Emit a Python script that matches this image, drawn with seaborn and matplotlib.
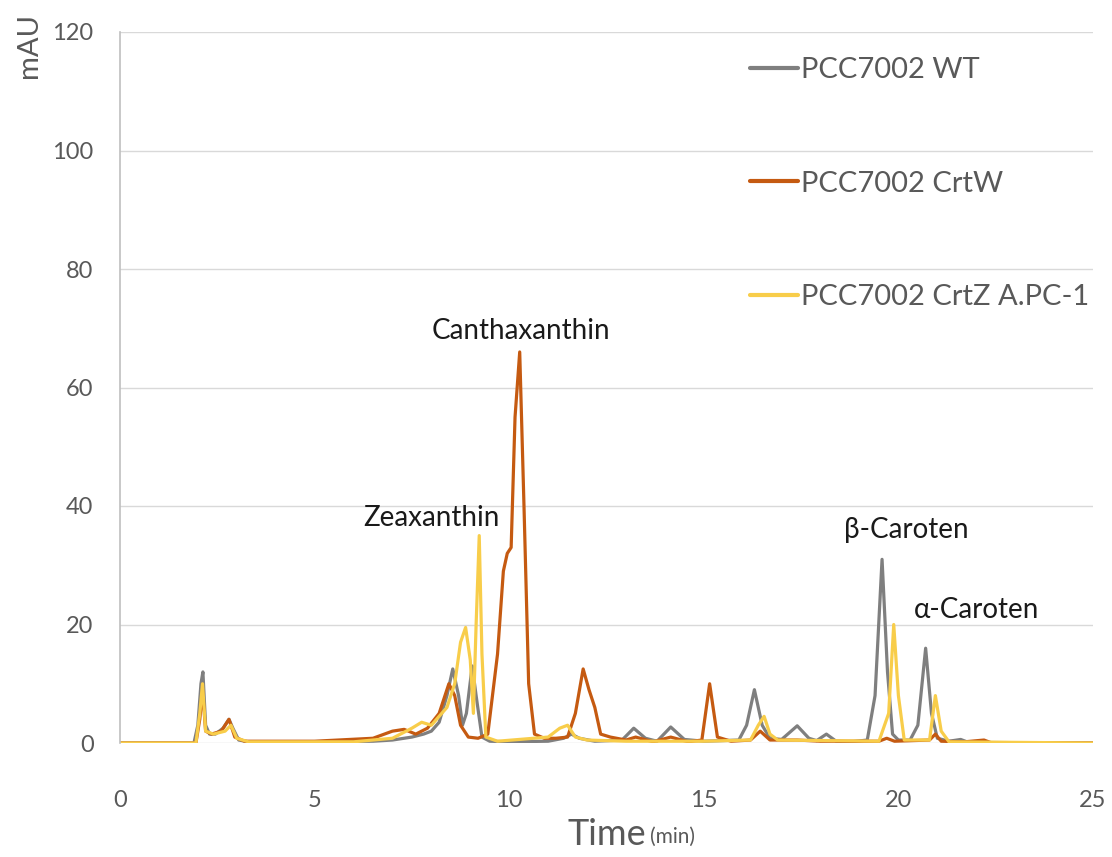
import numpy as np
import pandas as pd
import matplotlib
matplotlib.use("Agg")
import matplotlib.pyplot as plt
import seaborn as sns

# ---------------- data ----------------
wt_time = [0, 1.9, 2.0, 2.08, 2.13, 2.2, 2.3, 2.45, 2.65, 2.8, 2.9, 3.05, 3.3, 5.0, 6.5, 7.0,
           7.5, 7.8, 8.0, 8.2, 8.4, 8.55, 8.7, 8.8, 8.9, 9.05, 9.15, 9.3, 9.5, 10.0, 11.0,
           11.4, 11.6, 11.8, 12.2, 12.9, 13.2, 13.5, 13.8, 14.15, 14.5, 15.0, 15.9, 16.1,
           16.3, 16.5, 16.7, 17.0, 17.4, 17.7, 17.9, 18.15, 18.4, 18.8, 19.2, 19.4, 19.58,
           19.72, 19.85, 20.0, 20.3, 20.5, 20.7, 20.85, 21.0, 21.3, 21.6, 21.8, 25.0]
wt_mau = [0, 0, 3, 10, 12, 3, 1.5, 1.5, 2.5, 4, 2.5, 0.5, 0.2, 0.2, 0.3, 0.5,
          1, 1.5, 2, 3.5, 8, 12.5, 8, 3, 5, 13, 8, 1, 0.3, 0.2, 0.3,
          0.8, 1.5, 0.8, 0.3, 0.5, 2.5, 0.8, 0.3, 2.7, 0.6, 0.3, 0.5, 3,
          9, 3, 0.8, 0.6, 2.9, 0.8, 0.4, 1.5, 0.3, 0.2, 0.5, 8, 31,
          12, 1.5, 0.5, 0.5, 3, 16, 5, 0.8, 0.3, 0.6, 0.1, 0]

crtw_time = [0, 1.95, 2.05, 2.12, 2.2, 2.35, 2.6, 2.8, 2.95, 3.2, 5.0, 6.5, 7.0, 7.3, 7.6,
             7.9, 8.2, 8.45, 8.6, 8.75, 8.95, 9.2, 9.45, 9.7, 9.85, 9.95, 10.05, 10.15,
             10.27, 10.38, 10.5, 10.65, 10.9, 11.2, 11.5, 11.7, 11.9, 12.05, 12.2, 12.35,
             12.6, 13.0, 13.25, 13.7, 14.15, 14.6, 14.95, 15.15, 15.35, 15.7, 16.2, 16.45,
             16.7, 17.4, 18.0, 19.5, 19.7, 19.9, 20.8, 20.95, 21.1, 21.7, 22.2, 22.4, 25.0]
crtw_mau = [0, 0, 4, 9, 2, 1.5, 2, 4, 1, 0.3, 0.3, 0.8, 2, 2.3, 1.5,
            2.5, 5, 10, 8, 3, 1, 0.8, 1.5, 15, 29, 32, 33, 55,
            66, 40, 10, 1.5, 0.8, 0.8, 1, 5, 12.5, 9, 6, 1.5,
            1, 0.5, 1, 0.2, 1, 0.2, 0.5, 10, 1, 0.3, 0.5, 2,
            0.5, 0.5, 0.3, 0.3, 0.8, 0.3, 0.5, 1.5, 0.3, 0.2, 0.5, 0, 0]

crtz_time = [0, 1.95, 2.05, 2.12, 2.2, 2.4, 2.7, 2.85, 3.0, 3.3, 6.0, 7.0, 7.5, 7.75, 8.0,
             8.2, 8.4, 8.6, 8.75, 8.88, 9.0, 9.08, 9.15, 9.23, 9.3, 9.4, 9.7, 11.0, 11.3,
             11.5, 11.7, 12.0, 13.0, 15.0, 16.2, 16.4, 16.55, 16.7, 16.9, 19.5, 19.75,
             19.88, 20.0, 20.15, 20.8, 20.95, 21.1, 21.3, 25.0]
crtz_mau = [0, 0, 5, 10, 2, 1.5, 2, 3, 0.8, 0.2, 0.2, 0.8, 2.5, 3.5, 3,
            4.5, 6, 10, 17, 19.5, 14, 5, 20, 35, 15, 1, 0.3, 1, 2.5,
            3, 1, 0.5, 0.3, 0.3, 0.5, 3, 4.5, 1.5, 0.5, 0.3, 5,
            20, 8, 0.5, 0.5, 8, 2, 0.2, 0]

series_names = ["PCC7002 WT", "PCC7002 CrtW", "PCC7002 CrtZ A.PC-1"]
series_colors = ["#7F7F7F", "#C55A11", "#F8CD4A"]

peak_labels = ["Canthaxanthin", "Zeaxanthin", "β-Caroten", "α-Caroten"]
peak_label_pos = [(10.3, 69.5), (8.0, 38.0), (20.2, 36.0), (22.0, 22.5)]

x_ticks = [0, 5, 10, 15, 20, 25]
y_ticks = [0, 20, 40, 60, 80, 100, 120]

# ---------------- build long-form frame ----------------
frames = []
for name, t, v in zip(series_names, [wt_time, crtw_time, crtz_time],
                      [wt_mau, crtw_mau, crtz_mau]):
    frames.append(pd.DataFrame({"Time": t, "mAU": v, "Sample": name}))
df = pd.concat(frames, ignore_index=True)

# ---------------- plot ----------------
sns.set_style("white")
FONT = ["Lato", "DejaVu Sans"]
plt.rcParams["font.family"] = FONT

fig = plt.figure(figsize=(11.12, 8.57), dpi=100)
ax = fig.add_axes([120 / 1112, 1 - 743 / 857, (1093 - 120) / 1112, (743 - 32) / 857])

sns.lineplot(data=df, x="Time", y="mAU", hue="Sample", hue_order=series_names,
             palette=dict(zip(series_names, series_colors)), estimator=None,
             linewidth=2.3, ax=ax, legend=False)

ax.set_xlim(0, 25)
ax.set_ylim(0, 120)
ax.set_xticks(x_ticks)
ax.set_yticks(y_ticks)
ax.yaxis.grid(True, color="#D9D9D9", linewidth=1.0)
ax.set_axisbelow(True)
for s in ["top", "right", "bottom"]:
    ax.spines[s].set_visible(False)
ax.spines["left"].set_color("#BFBFBF")
ax.spines["left"].set_linewidth(1.2)
ax.tick_params(axis="x", length=0, pad=34, labelsize=17, labelcolor="#595959")
ax.tick_params(axis="y", length=0, pad=19, labelsize=17, labelcolor="#595959")

ax.set_xlabel("Time", fontsize=26, color="#595959", labelpad=5)
ax.set_ylabel("")
ax.annotate("(min)", xy=(1, 0), xycoords=ax.xaxis.label, xytext=(3, 3),
            textcoords="offset points", fontsize=15, color="#595959", va="bottom")
fig.text(29 / 1112, 1 - 46 / 857, "mAU", rotation=90, fontsize=21, color="#595959",
         ha="center", va="center")

for lab, (x, y) in zip(peak_labels, peak_label_pos):
    ax.text(x, y, lab, fontsize=20, color="#1a1a1a", ha="center", va="center")

handles = [plt.Line2D([], [], color=c, linewidth=3) for c in series_colors]
fig.legend(handles, series_names, loc="upper left",
           bbox_to_anchor=(750 / 1112, 1 - 57 / 857), bbox_transform=fig.transFigure,
           frameon=False, fontsize=21, labelcolor="#595959", handlelength=1.65,
           handletextpad=0.1, labelspacing=3.0, borderpad=0, borderaxespad=0)

fig.savefig("out.png", dpi=100)
